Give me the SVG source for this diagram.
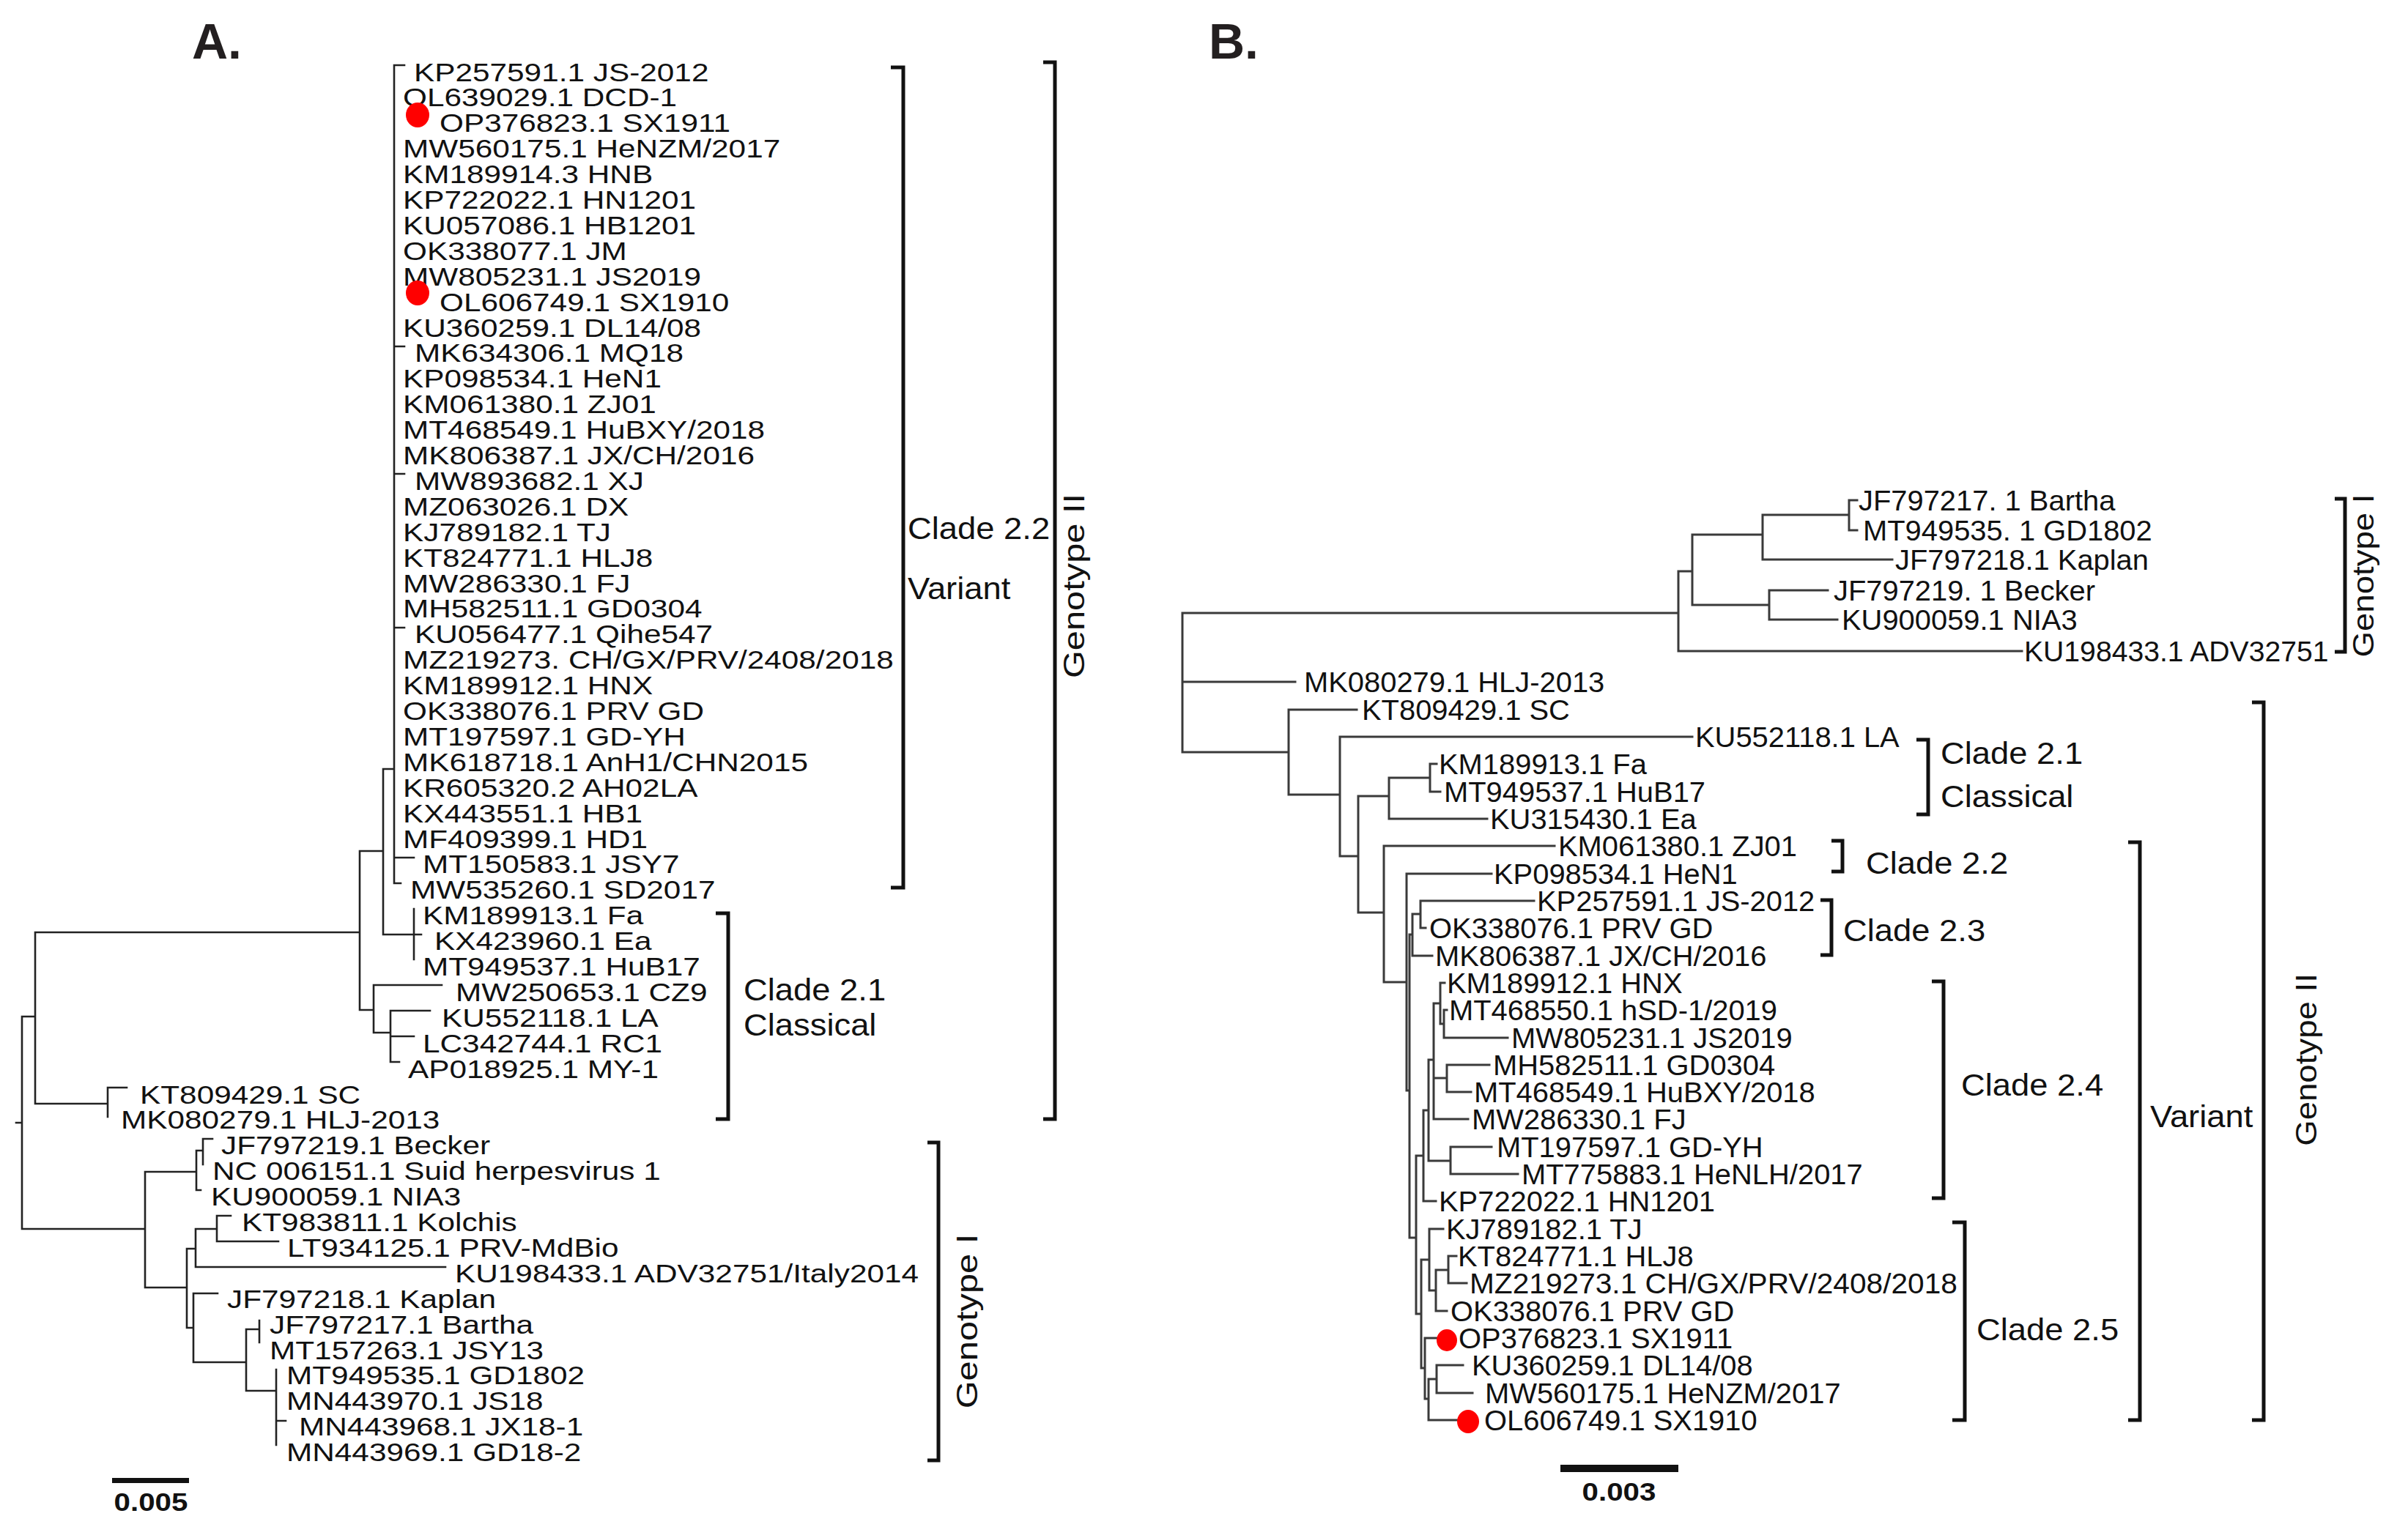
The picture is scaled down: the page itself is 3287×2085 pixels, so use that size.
<svg xmlns="http://www.w3.org/2000/svg" width="3287" height="2085" viewBox="0 0 3287 2085">
<style>
.ln{fill:none;stroke:#222;stroke-width:2.6;stroke-linecap:square}
.lnb{fill:none;stroke:#3a3a3a;stroke-width:3;stroke-linecap:square}
.br{fill:none;stroke:#111;stroke-width:5}
text{font-family:"Liberation Sans",Arial,sans-serif;fill:#111}
.ta{font-size:35px}
.tb{font-size:38px}
.cl{font-size:42px}
.gt{font-size:40px}
.pl{font-size:68px;font-weight:bold;fill:#231f20}
.sb{font-size:36px;font-weight:bold}
.dot{fill:#ff0000}
</style>
<rect width="3287" height="2085" fill="#ffffff"/>
<text class="pl" x="262" y="80">A.</text>
<text class="pl" x="1650" y="80">B.</text>

<g id="connectorsA">
<path class="ln" d="M538 89V1206M538 89H552M538 473H552M538 647H552M538 857H552M538 1171H565M538 1206H547M523 1050H538M523 1050V1276M523 1276H575M565 1241V1310M491 1162H523M491 1162V1379M48 1273H491M491 1379H510M510 1345V1410M510 1345H603M510 1410H533M533 1380V1450M533 1380H587M533 1415H565M533 1450H545M48 1273V1507M48 1507H147M147 1485V1525M147 1485H173M30 1388H48M30 1388V1678M22 1533H30M30 1678H198M198 1600V1758M198 1600H268M268 1571V1625M268 1571H277M277 1555V1590M277 1555H290M268 1625H274M198 1758H255M255 1705V1813M255 1705H267M267 1678V1730M267 1678H296M296 1660V1695M296 1660H315M296 1695H380M267 1730H608M255 1813H264M264 1766V1860M264 1766H297M264 1860H336M336 1815V1899M336 1815H354M354 1803V1833M336 1899H377M377 1870V1973M377 1940H390"/>
<path class="br" d="M1216 92H1233V1212H1216M1424 85H1440V1528H1424M977 1247H994V1528H977M1266 1560H1281V1994H1266"/>
<rect x="153" y="2018" width="105" height="7" fill="#111"/>
</g>

<g id="connectorsB">
<path class="lnb" d="M1614 837V1027M1614 837H2291M1614 931H1768M2291 780V889M2291 889H2760M2291 780H2310M2310 730V826M2310 730H2406M2406 703V764M2406 703H2524M2524 683V724M2524 683H2535M2524 724H2535M2406 764H2583M2310 826H2415M2415 806V846M2415 806H2495M2415 846H2508M1614 1027H1759M1759 969V1085M1759 969H1852M1759 1085H1829M1829 1006V1169M1829 1006H2310M1829 1169H1854M1854 1087V1246M1854 1087H1896M1896 1062V1118M1896 1062H1952M1952 1043V1081M1952 1043H1961M1952 1081H1966M1896 1118H2030M1854 1246H1889M1889 1155V1341M1889 1155H2122M1889 1341H1920M1920 1193V1489M1920 1193H2036M1920 1489H1924M1924 1276V1690M1924 1276H1928M1928 1248V1305M1928 1248H1939M1939 1230V1267M1939 1230H2094M1939 1267H1946M1928 1305H1955M1924 1690H1933M1933 1578V1794M1933 1578H1943M1943 1516V1640M1943 1640H1960M1943 1516H1950M1950 1447V1585M1950 1585H1980M1980 1566V1603M1980 1566H2036M1980 1603H2072M1950 1447H1957M1957 1370V1528M1957 1370H1966M1966 1342V1398M1966 1342H1972M1966 1398H1971M1971 1379V1417M1971 1379H1975M1971 1417H2058M1957 1472H1975M1975 1454V1491M1975 1454H2033M1975 1491H2008M1957 1528H2004M1933 1794H1940M1940 1720V1868M1940 1720H1951M1951 1678V1762M1951 1678H1970M1951 1762H1960M1960 1734V1790M1960 1734H1977M1977 1715V1752M1977 1715H1988M1977 1752H2002M1960 1790H1975M1940 1868H1945M1945 1827V1910M1945 1827H1962M1945 1910H1950M1950 1883V1939M1950 1883H1961M1961 1864V1902M1961 1864H1997M1961 1902H2010M1950 1939H1990"/>
<path class="br" d="M3187 681H3201V890H3187M2616 1010H2632V1112H2616M2500 1148H2515V1190H2500M2485 1229H2500V1304H2485M2637 1340H2653V1636H2637M2665 1669H2682V1939H2665M2905 1150H2921V1939H2905M3074 959H3090V1939H3074"/>
<rect x="2130" y="2000" width="161" height="10" fill="#111"/>
</g>

<g id="panelA-labels">
<g id="A01"><text class="ta" transform="translate(565,110.5) scale(1.21,1)">KP257591.1 JS-2012</text></g>
<g id="A02"><text class="ta" transform="translate(550,145.4) scale(1.21,1)">OL639029.1 DCD-1</text></g>
<g id="A03"><ellipse class="dot" cx="570" cy="157" rx="16" ry="17"/><text class="ta" transform="translate(600,180.3) scale(1.21,1)">OP376823.1 SX1911</text></g>
<g id="A04"><text class="ta" transform="translate(550,215.2) scale(1.21,1)">MW560175.1 HeNZM/2017</text></g>
<g id="A05"><text class="ta" transform="translate(550,250.1) scale(1.21,1)">KM189914.3 HNB</text></g>
<g id="A06"><text class="ta" transform="translate(550,285) scale(1.21,1)">KP722022.1 HN1201</text></g>
<g id="A07"><text class="ta" transform="translate(550,319.9) scale(1.21,1)">KU057086.1 HB1201</text></g>
<g id="A08"><text class="ta" transform="translate(550,354.8) scale(1.21,1)">OK338077.1 JM</text></g>
<g id="A09"><text class="ta" transform="translate(550,389.7) scale(1.21,1)">MW805231.1 JS2019</text></g>
<g id="A10"><ellipse class="dot" cx="570" cy="400" rx="16" ry="17"/><text class="ta" transform="translate(600,424.6) scale(1.21,1)">OL606749.1 SX1910</text></g>
<g id="A11"><text class="ta" transform="translate(550,459.5) scale(1.21,1)">KU360259.1 DL14/08</text></g>
<g id="A12"><text class="ta" transform="translate(566,494.4) scale(1.21,1)">MK634306.1 MQ18</text></g>
<g id="A13"><text class="ta" transform="translate(550,529.3) scale(1.21,1)">KP098534.1 HeN1</text></g>
<g id="A14"><text class="ta" transform="translate(550,564.2) scale(1.21,1)">KM061380.1 ZJ01</text></g>
<g id="A15"><text class="ta" transform="translate(550,599.1) scale(1.21,1)">MT468549.1 HuBXY/2018</text></g>
<g id="A16"><text class="ta" transform="translate(550,634) scale(1.21,1)">MK806387.1 JX/CH/2016</text></g>
<g id="A17"><text class="ta" transform="translate(566,668.9) scale(1.21,1)">MW893682.1 XJ</text></g>
<g id="A18"><text class="ta" transform="translate(550,703.8) scale(1.21,1)">MZ063026.1 DX</text></g>
<g id="A19"><text class="ta" transform="translate(550,738.7) scale(1.21,1)">KJ789182.1 TJ</text></g>
<g id="A20"><text class="ta" transform="translate(550,773.6) scale(1.21,1)">KT824771.1 HLJ8</text></g>
<g id="A21"><text class="ta" transform="translate(550,808.5) scale(1.21,1)">MW286330.1 FJ</text></g>
<g id="A22"><text class="ta" transform="translate(550,843.4) scale(1.21,1)">MH582511.1 GD0304</text></g>
<g id="A23"><text class="ta" transform="translate(566,878.3) scale(1.21,1)">KU056477.1 Qihe547</text></g>
<g id="A24"><text class="ta" transform="translate(550,913.2) scale(1.21,1)">MZ219273. CH/GX/PRV/2408/2018</text></g>
<g id="A25"><text class="ta" transform="translate(550,948.1) scale(1.21,1)">KM189912.1 HNX</text></g>
<g id="A26"><text class="ta" transform="translate(550,983) scale(1.21,1)">OK338076.1 PRV GD</text></g>
<g id="A27"><text class="ta" transform="translate(550,1017.9) scale(1.21,1)">MT197597.1 GD-YH</text></g>
<g id="A28"><text class="ta" transform="translate(550,1052.8) scale(1.21,1)">MK618718.1 AnH1/CHN2015</text></g>
<g id="A29"><text class="ta" transform="translate(550,1087.7) scale(1.21,1)">KR605320.2 AH02LA</text></g>
<g id="A30"><text class="ta" transform="translate(550,1122.6) scale(1.21,1)">KX443551.1 HB1</text></g>
<g id="A31"><text class="ta" transform="translate(550,1157.5) scale(1.21,1)">MF409399.1 HD1</text></g>
<g id="A32"><text class="ta" transform="translate(577,1192.4) scale(1.21,1)">MT150583.1 JSY7</text></g>
<g id="A33"><text class="ta" transform="translate(560,1227.3) scale(1.21,1)">MW535260.1 SD2017</text></g>
<g id="A34"><text class="ta" transform="translate(577,1262.2) scale(1.21,1)">KM189913.1 Fa</text></g>
<g id="A35"><text class="ta" transform="translate(593,1297.1) scale(1.21,1)">KX423960.1 Ea</text></g>
<g id="A36"><text class="ta" transform="translate(577,1332) scale(1.21,1)">MT949537.1 HuB17</text></g>
<g id="A37"><text class="ta" transform="translate(622,1366.9) scale(1.21,1)">MW250653.1 CZ9</text></g>
<g id="A38"><text class="ta" transform="translate(603,1401.8) scale(1.21,1)">KU552118.1 LA</text></g>
<g id="A39"><text class="ta" transform="translate(577,1436.7) scale(1.21,1)">LC342744.1 RC1</text></g>
<g id="A40"><text class="ta" transform="translate(557,1471.6) scale(1.21,1)">AP018925.1 MY-1</text></g>
<g id="A41"><text class="ta" transform="translate(191,1506.5) scale(1.21,1)">KT809429.1 SC</text></g>
<g id="A42"><text class="ta" transform="translate(165,1541.4) scale(1.21,1)">MK080279.1 HLJ-2013</text></g>
<g id="A43"><text class="ta" transform="translate(302,1576.3) scale(1.21,1)">JF797219.1 Becker</text></g>
<g id="A44"><text class="ta" transform="translate(290,1611.2) scale(1.21,1)">NC 006151.1 Suid herpesvirus 1</text></g>
<g id="A45"><text class="ta" transform="translate(288,1646.1) scale(1.21,1)">KU900059.1 NIA3</text></g>
<g id="A46"><text class="ta" transform="translate(330,1681) scale(1.21,1)">KT983811.1 Kolchis</text></g>
<g id="A47"><text class="ta" transform="translate(392,1715.9) scale(1.21,1)">LT934125.1 PRV-MdBio</text></g>
<g id="A48"><text class="ta" transform="translate(621,1750.8) scale(1.21,1)">KU198433.1 ADV32751/Italy2014</text></g>
<g id="A49"><text class="ta" transform="translate(310,1785.7) scale(1.21,1)">JF797218.1 Kaplan</text></g>
<g id="A50"><text class="ta" transform="translate(368,1820.6) scale(1.21,1)">JF797217.1 Bartha</text></g>
<g id="A51"><text class="ta" transform="translate(368,1855.5) scale(1.21,1)">MT157263.1 JSY13</text></g>
<g id="A52"><text class="ta" transform="translate(391,1890.4) scale(1.21,1)">MT949535.1 GD1802</text></g>
<g id="A53"><text class="ta" transform="translate(391,1925.3) scale(1.21,1)">MN443970.1 JS18</text></g>
<g id="A54"><text class="ta" transform="translate(408,1960.2) scale(1.21,1)">MN443968.1 JX18-1</text></g>
<g id="A55"><text class="ta" transform="translate(391,1995.1) scale(1.21,1)">MN443969.1 GD18-2</text></g>
</g>

<g id="panelA-groups">
<g id="A-clade22"><text class="cl" transform="translate(1239,736) scale(1.08,1)">Clade 2.2</text><text class="cl" transform="translate(1239,818) scale(1.08,1)">Variant</text></g>
<g id="A-clade21"><text class="cl" transform="translate(1015,1366) scale(1.08,1)">Clade 2.1</text><text class="cl" transform="translate(1015,1414) scale(1.08,1)">Classical</text></g>
<g id="A-genoII"><text class="gt" text-anchor="middle" transform="translate(1480,800) rotate(-90) scale(1.22,1)">Genotype II</text></g>
<g id="A-genoI"><text class="gt" text-anchor="middle" transform="translate(1334,1804) rotate(-90) scale(1.22,1)">Genotype I</text></g>
<g id="A-scale"><text class="sb" text-anchor="middle" transform="translate(206,2063) scale(1.12,1)">0.005</text></g>
</g>

<g id="panelB-labels">
<g id="B01"><text class="tb" transform="translate(2537,697) scale(1.05,1)">JF797217. 1 Bartha</text></g>
<g id="B02"><text class="tb" transform="translate(2543,738) scale(1.05,1)">MT949535. 1 GD1802</text></g>
<g id="B03"><text class="tb" transform="translate(2587,778) scale(1.05,1)">JF797218.1 Kaplan</text></g>
<g id="B04"><text class="tb" transform="translate(2503,820) scale(1.05,1)">JF797219. 1 Becker</text></g>
<g id="B05"><text class="tb" transform="translate(2514,860) scale(1.05,1)">KU900059.1 NIA3</text></g>
<g id="B06"><text class="tb" transform="translate(2763,903) scale(1.03,1)">KU198433.1 ADV32751</text></g>
<g id="B07"><text class="tb" transform="translate(1780,945) scale(1.05,1)">MK080279.1 HLJ-2013</text></g>
<g id="B08"><text class="tb" transform="translate(1859,983) scale(1.05,1)">KT809429.1 SC</text></g>
<g id="B09"><text class="tb" transform="translate(2314,1020) scale(1.05,1)">KU552118.1 LA</text></g>
<g id="B10"><text class="tb" transform="translate(1964,1057) scale(1.05,1)">KM189913.1 Fa</text></g>
<g id="B11"><text class="tb" transform="translate(1971,1095) scale(1.05,1)">MT949537.1 HuB17</text></g>
<g id="B12"><text class="tb" transform="translate(2034,1132) scale(1.05,1)">KU315430.1 Ea</text></g>
<g id="B13"><text class="tb" transform="translate(2127,1169) scale(1.05,1)">KM061380.1 ZJ01</text></g>
<g id="B14"><text class="tb" transform="translate(2039,1207) scale(1.05,1)">KP098534.1 HeN1</text></g>
<g id="B15"><text class="tb" transform="translate(2098,1244) scale(1.05,1)">KP257591.1 JS-2012</text></g>
<g id="B16"><text class="tb" transform="translate(1951,1281) scale(1.05,1)">OK338076.1 PRV GD</text></g>
<g id="B17"><text class="tb" transform="translate(1959,1319) scale(1.05,1)">MK806387.1 JX/CH/2016</text></g>
<g id="B18"><text class="tb" transform="translate(1975,1356) scale(1.05,1)">KM189912.1 HNX</text></g>
<g id="B19"><text class="tb" transform="translate(1978,1393) scale(1.05,1)">MT468550.1 hSD-1/2019</text></g>
<g id="B20"><text class="tb" transform="translate(2063,1431) scale(1.05,1)">MW805231.1 JS2019</text></g>
<g id="B21"><text class="tb" transform="translate(2038,1468) scale(1.05,1)">MH582511.1 GD0304</text></g>
<g id="B22"><text class="tb" transform="translate(2012,1505) scale(1.05,1)">MT468549.1 HuBXY/2018</text></g>
<g id="B23"><text class="tb" transform="translate(2009,1542) scale(1.05,1)">MW286330.1 FJ</text></g>
<g id="B24"><text class="tb" transform="translate(2043,1580) scale(1.05,1)">MT197597.1 GD-YH</text></g>
<g id="B25"><text class="tb" transform="translate(2077,1617) scale(1.05,1)">MT775883.1 HeNLH/2017</text></g>
<g id="B26"><text class="tb" transform="translate(1964,1654) scale(1.05,1)">KP722022.1 HN1201</text></g>
<g id="B27"><text class="tb" transform="translate(1974,1692) scale(1.05,1)">KJ789182.1 TJ</text></g>
<g id="B28"><text class="tb" transform="translate(1990,1729) scale(1.05,1)">KT824771.1 HLJ8</text></g>
<g id="B29"><text class="tb" transform="translate(2006,1766) scale(1.07,1)">MZ219273.1 CH/GX/PRV/2408/2018</text></g>
<g id="B30"><text class="tb" transform="translate(1980,1804) scale(1.05,1)">OK338076.1 PRV GD</text></g>
<g id="B31"><ellipse class="dot" cx="1975" cy="1830" rx="14" ry="15"/><text class="tb" transform="translate(1991,1841) scale(1.05,1)">OP376823.1 SX1911</text></g>
<g id="B32"><text class="tb" transform="translate(2009,1878) scale(1.05,1)">KU360259.1 DL14/08</text></g>
<g id="B33"><text class="tb" transform="translate(2027,1916) scale(1.05,1)">MW560175.1 HeNZM/2017</text></g>
<g id="B34"><ellipse class="dot" cx="2004" cy="1941" rx="15" ry="16"/><text class="tb" transform="translate(2026,1953) scale(1.05,1)">OL606749.1 SX1910</text></g>
</g>

<g id="panelB-groups">
<g id="B-genoI"><text class="gt" text-anchor="middle" transform="translate(3240,786) rotate(-90) scale(1.14,1)">Genotype I</text></g>
<g id="B-clade21"><text class="cl" transform="translate(2649,1043) scale(1.08,1)">Clade 2.1</text><text class="cl" transform="translate(2649,1102) scale(1.08,1)">Classical</text></g>
<g id="B-clade22"><text class="cl" transform="translate(2547,1193) scale(1.08,1)">Clade 2.2</text></g>
<g id="B-clade23"><text class="cl" transform="translate(2516,1285) scale(1.08,1)">Clade 2.3</text></g>
<g id="B-clade24"><text class="cl" transform="translate(2677,1496) scale(1.08,1)">Clade 2.4</text></g>
<g id="B-clade25"><text class="cl" transform="translate(2698,1830) scale(1.08,1)">Clade 2.5</text></g>
<g id="B-variant"><text class="cl" transform="translate(2935,1539) scale(1.08,1)">Variant</text></g>
<g id="B-genoII"><text class="gt" text-anchor="middle" transform="translate(3162,1447) rotate(-90) scale(1.14,1)">Genotype II</text></g>
<g id="B-scale"><text class="sb" text-anchor="middle" transform="translate(2210,2049) scale(1.12,1)">0.003</text></g>
</g>
</svg>
